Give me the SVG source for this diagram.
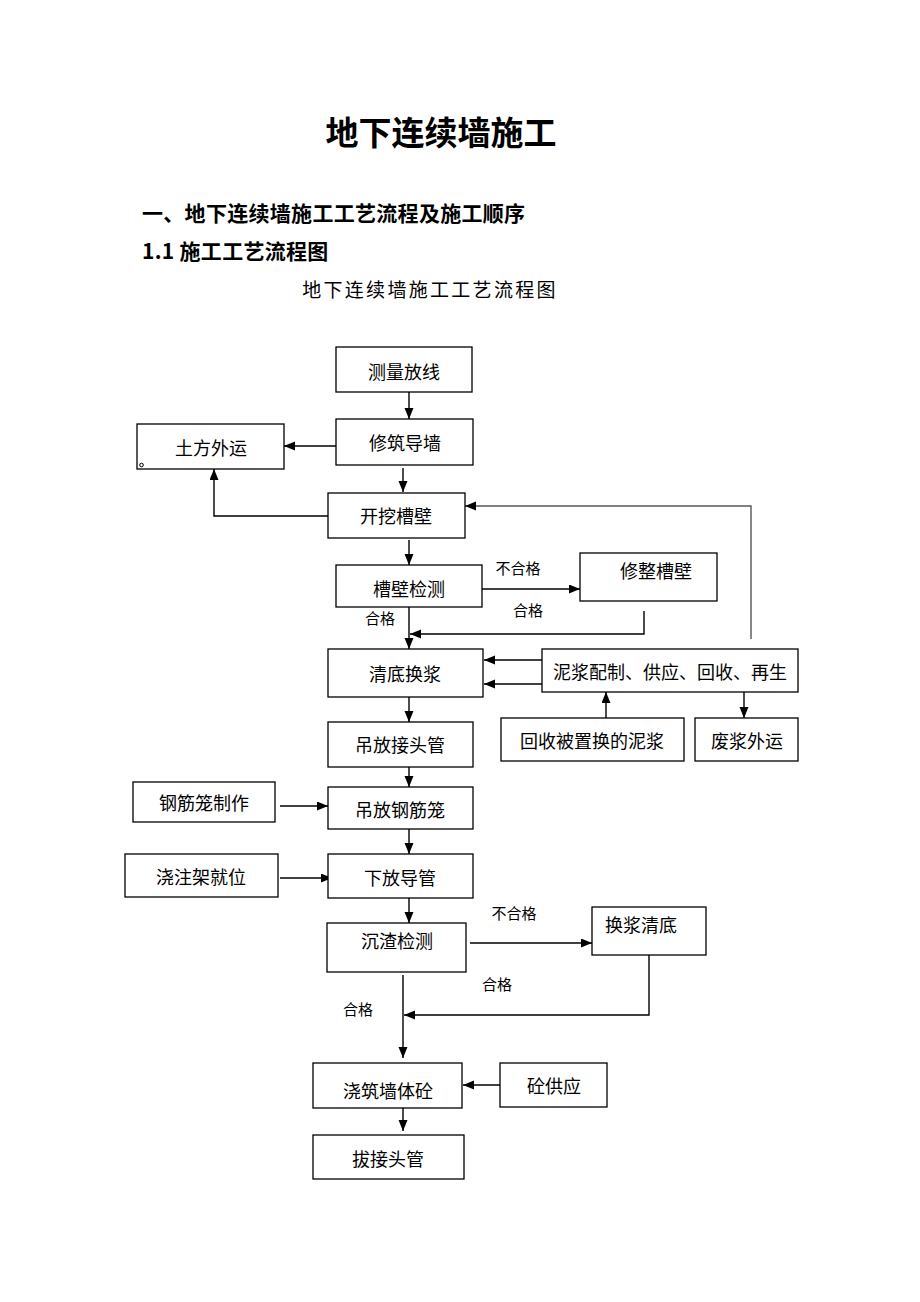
<svg xmlns="http://www.w3.org/2000/svg" width="920" height="1302" viewBox="0 0 920 1302">
<style>
.box{fill:#fff;stroke:#000;stroke-width:1.3}
.t{font-family:"Liberation Serif","Noto Sans CJK SC",serif;font-size:18px;text-anchor:middle;fill:#000}
.s{font-family:"Liberation Serif","Noto Sans CJK SC",serif;font-size:15px;text-anchor:middle;fill:#000}
.c{fill:none;stroke:#000;stroke-width:1.4}
.g{fill:none;stroke:#555;stroke-width:1.4}
</style>
<defs>
<marker id="a" markerUnits="userSpaceOnUse" markerWidth="12" markerHeight="10" refX="11" refY="4.5" orient="auto">
<path d="M0,0 L11,4.5 L0,9 z" fill="#000"/>
</marker>
</defs>
<rect width="920" height="1302" fill="#fff"/>
<g id="headings">
<text x="441" y="145" style="font-family:'Noto Sans CJK SC',sans-serif;font-size:33px;font-weight:700" text-anchor="middle">地下连续墙施工</text>
<text x="142" y="221" style="font-family:'Noto Sans CJK SC',sans-serif;font-size:21px;font-weight:700;letter-spacing:0.3px">一、地下连续墙施工工艺流程及施工顺序</text>
<text x="142" y="259" style="font-family:'Noto Sans CJK SC',sans-serif;font-size:21px;font-weight:700;letter-spacing:0.3px">1.1 施工工艺流程图</text>
<text x="430" y="297" style="font-family:'Noto Sans CJK SC',sans-serif;font-size:19px;letter-spacing:2.3px" text-anchor="middle">地下连续墙施工工艺流程图</text>
</g>
<g id="connectors">
<path class="c" d="M409,392 V419" marker-end="url(#a)"/>
<path class="c" d="M336,446 H284" marker-end="url(#a)"/>
<path class="c" d="M403,468 V492" marker-end="url(#a)"/>
<path class="c" d="M328,516 H214 V469" marker-end="url(#a)"/>
<path class="g" d="M751,639 V506 H465" marker-end="url(#a)"/>
<path class="c" d="M409,540 V565" marker-end="url(#a)"/>
<path class="c" d="M482,589 H580" marker-end="url(#a)"/>
<path class="c" d="M409,607 V649" marker-end="url(#a)"/>
<path class="c" d="M644,611 V634 H410" marker-end="url(#a)"/>
<path class="c" d="M542,660 H484" marker-end="url(#a)"/>
<path class="c" d="M542,684 H484" marker-end="url(#a)"/>
<path class="c" d="M606,718 V692" marker-end="url(#a)"/>
<path class="c" d="M744,692 V718" marker-end="url(#a)"/>
<path class="c" d="M409,697 V722" marker-end="url(#a)"/>
<path class="c" d="M409,767 V787" marker-end="url(#a)"/>
<path class="c" d="M280,806 H328" marker-end="url(#a)"/>
<path class="c" d="M409,829 V854" marker-end="url(#a)"/>
<path class="c" d="M280,878 H332" marker-end="url(#a)"/>
<path class="c" d="M409,898 V923" marker-end="url(#a)"/>
<path class="c" d="M470,943 H592" marker-end="url(#a)"/>
<path class="c" d="M649,955 V1015 H404" marker-end="url(#a)"/>
<path class="c" d="M403,975 V1058" marker-end="url(#a)"/>
<path class="c" d="M500,1085 H463" marker-end="url(#a)"/>
<path class="c" d="M403,1108 V1131" marker-end="url(#a)"/>
</g>
<g id="labels">
<text class="s" x="518" y="574">不合格</text>
<text class="s" x="528" y="616">合格</text>
<text class="s" x="380" y="624">合格</text>
<text class="s" x="514" y="919">不合格</text>
<text class="s" x="497" y="990">合格</text>
<text class="s" x="358" y="1015">合格</text>
</g>
<g id="n1"><rect class="box" x="336" y="347" width="136" height="45"/><text class="t" x="404" y="379">测量放线</text></g>
<g id="n2"><rect class="box" x="336" y="419" width="137" height="46"/><text class="t" x="405" y="450">修筑导墙</text></g>
<g id="n3"><rect class="box" x="137" y="424" width="147" height="45"/><text class="t" x="211" y="455">土方外运</text><circle cx="141.5" cy="465" r="1.8" fill="none" stroke="#000" stroke-width="1"/></g>
<g id="n4"><rect class="box" x="328" y="493" width="137" height="45"/><text class="t" x="396" y="523">开挖槽壁</text></g>
<g id="n5"><rect class="box" x="336" y="565" width="146" height="42"/><text class="t" x="409" y="596">槽壁检测</text></g>
<g id="n6"><rect class="box" x="580" y="553" width="137" height="48"/><text class="t" x="656" y="578">修整槽壁</text></g>
<g id="n7"><rect class="box" x="328" y="649" width="155" height="48"/><text class="t" x="405" y="681">清底换浆</text></g>
<g id="n8"><rect class="box" x="542" y="649" width="256" height="43"/><text class="t" x="670" y="679">泥浆配制、供应、回收、再生</text></g>
<g id="n9"><rect class="box" x="501" y="718" width="183" height="43"/><text class="t" x="592" y="748">回收被置换的泥浆</text></g>
<g id="n10"><rect class="box" x="695" y="718" width="103" height="43"/><text class="t" x="747" y="748">废浆外运</text></g>
<g id="n11"><rect class="box" x="328" y="722" width="145" height="45"/><text class="t" x="400" y="752">吊放接头管</text></g>
<g id="n12"><rect class="box" x="133" y="782" width="142" height="40"/><text class="t" x="204" y="810">钢筋笼制作</text></g>
<g id="n13"><rect class="box" x="328" y="787" width="145" height="42"/><text class="t" x="400" y="817">吊放钢筋笼</text></g>
<g id="n14"><rect class="box" x="125" y="854" width="153" height="43"/><text class="t" x="201" y="884">浇注架就位</text></g>
<g id="n15"><rect class="box" x="328" y="854" width="145" height="44"/><text class="t" x="400" y="885">下放导管</text></g>
<g id="n16"><rect class="box" x="327" y="923" width="139" height="49"/><text class="t" x="397" y="948">沉渣检测</text></g>
<g id="n17"><rect class="box" x="592" y="907" width="114" height="48"/><text class="t" x="641" y="932">换浆清底</text></g>
<g id="n18"><rect class="box" x="313" y="1063" width="149" height="45"/><text class="t" x="388" y="1098">浇筑墙体砼</text></g>
<g id="n19"><rect class="box" x="500" y="1063" width="107" height="44"/><text class="t" x="554" y="1093">砼供应</text></g>
<g id="n20"><rect class="box" x="313" y="1135" width="151" height="44"/><text class="t" x="388" y="1166">拔接头管</text></g>
</svg>
